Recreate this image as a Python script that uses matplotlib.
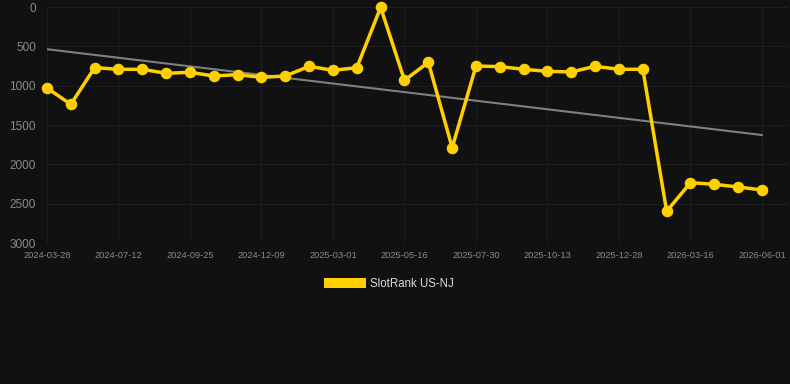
import numpy as np
import matplotlib
matplotlib.use("Agg")
import matplotlib.pyplot as plt
from matplotlib.patches import Patch

plt.rcParams['font.family'] = ['Liberation Sans', 'DejaVu Sans']

# rank values, one per category position
ranks = [1030, 1237, 771, 792, 792, 843, 830, 877, 860, 894, 877, 754, 805, 771, 5,
         932, 703, 1788, 750, 758, 792, 818, 826, 754, 792, 792, 2597, 2233, 2254, 2288, 2326]
tick_pos = [0, 3, 6, 9, 12, 15, 18, 21, 24, 27, 30]
tick_labels = ['2024-03-28', '2024-07-12', '2024-09-25', '2024-12-09', '2025-03-01', '2025-05-16',
               '2025-07-30', '2025-10-13', '2025-12-28', '2026-03-16', '2026-06-01']
y_ticks = [0, 500, 1000, 1500, 2000, 2500, 3000]
series_name = 'SlotRank US-NJ'

bg = '#111111'
gold = '#FFD000'

fig = plt.figure(figsize=(7.9, 3.84), dpi=100, facecolor=bg)
ax = fig.add_axes([47/790, 1 - 243/384, (788 - 47)/790, (243 - 7)/384], facecolor=bg)

x = np.arange(len(ranks))
coef = np.polyfit(x, ranks, 1)
ax.plot(x, np.polyval(coef, x), color='#808080', lw=1.5, zorder=2)
ax.plot(x, ranks, color=gold, lw=2.5, marker='o', markersize=7.3, zorder=3, clip_on=False)

ax.set_ylim(3000, 0)
ax.set_xlim(0, 30 + 26/23.83)
ax.set_yticks(y_ticks)
ax.set_xticks(tick_pos)
ax.set_xticklabels(tick_labels)
ax.grid(True, color='#1e1e1e', lw=0.8)
ax.axhline(3000, color='#262626', lw=0.8, zorder=1)
ax.set_axisbelow(True)
for s in ax.spines.values():
    s.set_visible(False)
ax.tick_params(axis='y', length=0, pad=8, labelsize=8.5, labelcolor='#8a8a8a')
ax.tick_params(axis='x', length=0, pad=6, labelsize=6.7, labelcolor='#8a8a8a')

fig.legend(handles=[Patch(facecolor=gold, label=series_name)], loc='center',
           bbox_to_anchor=(389/790, 1 - 284/384), frameon=False, handlelength=3.6,
           handleheight=0.9, handletextpad=0.4, fontsize=8.3, labelcolor='#dddddd')

fig.savefig('out.png', dpi=100, facecolor=bg)
